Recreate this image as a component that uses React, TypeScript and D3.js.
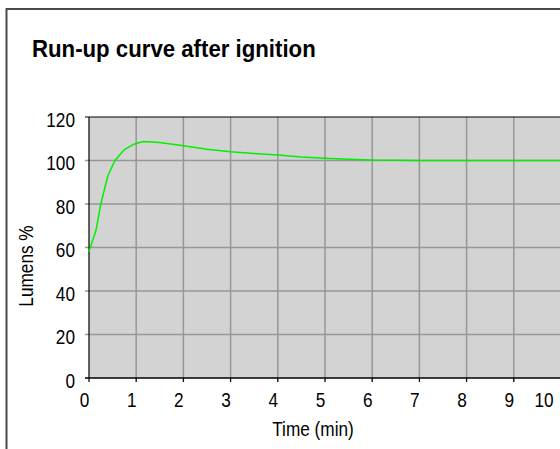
import React, { useEffect, useRef } from "react";
import * as d3 from "d3";

// run-up curve
const timeMin = [0, 0.15, 0.25, 0.4, 0.55, 0.75, 0.95, 1.15, 1.5, 2, 2.5, 3, 3.5, 4, 4.5, 5, 5.5, 6, 6.5, 7, 8, 9, 10, 11, 12];
const lumens = [58, 68, 80, 93, 100, 105, 107.5, 108.7, 108.3, 106.8, 105.2, 104, 103.2, 102.5, 101.6, 101, 100.6, 100.2, 100.1, 100, 100, 100, 100, 100, 100];

const yTicks = [0, 20, 40, 60, 80, 100, 120];
const xTicks = [0, 1, 2, 3, 4, 5, 6, 7, 8, 9, 10, 11, 12];
const xTickLabels = [0, 1, 2, 3, 4, 5, 6, 7, 8, 9, 10];

const title = "Run-up curve after ignition";
const xTitle = "Time (min)";
const yTitle = "Lumens %";

const W = 560;
const H = 449;
const sans = "'Liberation Sans', Arial, sans-serif";
const squeeze = 0.82; // no narrow font installed, so condense the regular one

const App = () => {
  const ref = useRef<SVGSVGElement>(null);

  useEffect(() => {
    const svg = d3.select(ref.current);
    svg.selectAll("*").remove();

    const left = 89;
    const top = 117;
    const bottom = 378;

    const x = d3.scaleLinear().domain([0, 12]).range([left, left + 47.2 * 12]);
    const y = d3.scaleLinear().domain([0, 120]).range([bottom, top]);
    const right = x(12);

    const label = (
      g: d3.Selection<any, any, any, any>,
      tx: number,
      ty: number,
      txt: string | number,
      anchor: string,
      rotate = 0
    ) =>
      g
        .append("text")
        .attr("transform", `translate(${tx},${ty}) rotate(${rotate}) scale(${squeeze},1)`)
        .attr("text-anchor", anchor)
        .attr("font-family", sans)
        .attr("font-size", 21)
        .attr("fill", "#000")
        .text(txt);

    // outer frame
    svg
      .append("rect")
      .attr("x", 6.5)
      .attr("y", 9)
      .attr("width", W + 50)
      .attr("height", H + 50)
      .attr("fill", "white")
      .attr("stroke", "#4a4a4a")
      .attr("stroke-width", 2);

    svg
      .append("text")
      .attr("transform", "translate(32,57) scale(0.945,1)")
      .attr("font-family", sans)
      .attr("font-weight", "bold")
      .attr("font-size", 23.5)
      .attr("fill", "#000")
      .text(title);

    // plot background
    svg
      .append("rect")
      .attr("x", left)
      .attr("y", top)
      .attr("width", right - left)
      .attr("height", bottom - top)
      .attr("fill", "#d3d3d3");

    // grid
    svg
      .append("g")
      .selectAll("line")
      .data(xTicks.filter((d) => d > 0))
      .join("line")
      .attr("x1", (d) => x(d))
      .attr("x2", (d) => x(d))
      .attr("y1", top)
      .attr("y2", bottom + 4)
      .attr("stroke", "#979797")
      .attr("stroke-width", 1.5);

    svg
      .append("g")
      .selectAll("line")
      .data(yTicks.filter((d) => d > 0 && d < 120))
      .join("line")
      .attr("x1", left - 4)
      .attr("x2", right)
      .attr("y1", (d) => y(d))
      .attr("y2", (d) => y(d))
      .attr("stroke", "#979797")
      .attr("stroke-width", 1.5);

    // axis lines
    svg
      .append("line")
      .attr("x1", left - 4)
      .attr("x2", right)
      .attr("y1", y(120))
      .attr("y2", y(120))
      .attr("stroke", "#000")
      .attr("stroke-width", 1.2);
    svg
      .append("line")
      .attr("x1", left)
      .attr("x2", left)
      .attr("y1", top)
      .attr("y2", bottom + 4)
      .attr("stroke", "#000")
      .attr("stroke-width", 1.2);
    svg
      .append("line")
      .attr("x1", left - 4)
      .attr("x2", right)
      .attr("y1", bottom)
      .attr("y2", bottom)
      .attr("stroke", "#000")
      .attr("stroke-width", 1.5);
    svg
      .append("g")
      .selectAll("line")
      .data(xTicks.filter((d) => d > 0))
      .join("line")
      .attr("x1", (d) => x(d))
      .attr("x2", (d) => x(d))
      .attr("y1", bottom)
      .attr("y2", bottom + 4)
      .attr("stroke", "#000")
      .attr("stroke-width", 1);

    // tick labels
    const yl = svg.append("g");
    yTicks.forEach((d) => label(yl, 75, y(d) + 9.5, d, "end"));

    const xl = svg.append("g");
    xTickLabels.forEach((d) => label(xl, Math.min(x(d) - 4.5, W - 16), 407, d, "middle"));

    label(svg, 313, 435.5, xTitle, "middle");
    label(svg, 33, 266, yTitle, "middle", -90);

    // curve
    const pts = timeMin.map((t, i) => [t, lumens[i]] as [number, number]);
    svg
      .append("path")
      .datum(pts)
      .attr("fill", "none")
      .attr("stroke", "#00f000")
      .attr("stroke-width", 1.5)
      .attr(
        "d",
        d3
          .line<[number, number]>()
          .curve(d3.curveLinear)
          .x((d) => x(d[0]))
          .y((d) => y(d[1]))
      );
  }, []);

  return (
    <svg
      ref={ref}
      width={W}
      height={H}
      style={{ position: "absolute", left: 0, top: 0, background: "white" }}
    />
  );
};

export default App;
